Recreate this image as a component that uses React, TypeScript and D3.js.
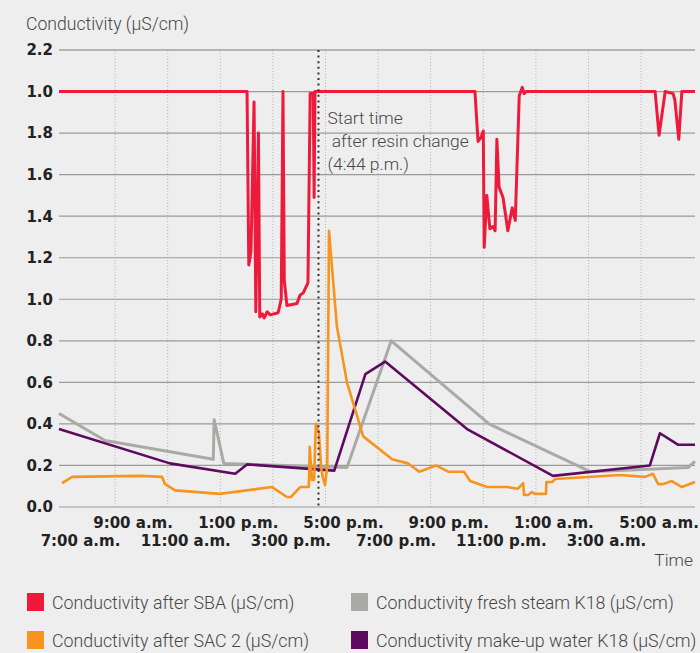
import React from "react";
import * as d3 from "d3";

const yTickValues = [0, 0.2, 0.4, 0.6, 0.8, 1.0, 1.2, 1.4, 1.6, 1.8, 2.0, 2.2];
const yTickLabels = ["0.0", "0.2", "0.4", "0.6", "0.8", "1.0", "1.2", "1.4", "1.6", "1.8", "1.0", "2.2"];

const gridTimes = ["01 09:00", "01 11:00", "01 13:00", "01 15:00", "01 17:00", "01 19:00", "01 21:00", "01 23:00", "02 01:00", "02 03:00", "02 05:00"];
const xTicksRow1 = [["01 09:00", "9:00 a.m."], ["01 13:00", "1:00 p.m."], ["01 17:00", "5:00 p.m."], ["01 21:00", "9:00 p.m."], ["02 01:00", "1:00 a.m."], ["02 05:00", "5:00 a.m."]];
const xTicksRow2 = [["01 07:00", "7:00 a.m."], ["01 11:00", "11:00 a.m."], ["01 15:00", "3:00 p.m."], ["01 19:00", "7:00 p.m."], ["01 23:00", "11:00 p.m."], ["02 03:00", "3:00 a.m."]];

const resinChange = "01 16:44";
const timeDomain = ["01 06:52", "02 07:03"];

const afterSBA: [string, number][] = [
  ["01 06:52", 2.0], ["01 14:01", 2.0], ["01 14:05", 1.165], ["01 14:10", 1.23], ["01 14:17", 1.95],
  ["01 14:21", 0.94], ["01 14:27", 1.8], ["01 14:30", 0.915], ["01 14:36", 0.93], ["01 14:40", 0.91],
  ["01 14:47", 0.94], ["01 14:54", 0.925], ["01 15:12", 0.935], ["01 15:19", 1.0], ["01 15:23", 2.0],
  ["01 15:26", 1.09], ["01 15:32", 0.97], ["01 15:55", 0.98], ["01 16:02", 1.02], ["01 16:09", 1.03],
  ["01 16:18", 1.07], ["01 16:20", 1.08], ["01 16:25", 1.99], ["01 16:32", 1.99], ["01 16:34", 1.49],
  ["01 16:36", 2.0], ["01 22:41", 2.0], ["01 22:48", 1.76], ["01 22:55", 1.78], ["01 23:00", 1.81],
  ["01 23:02", 1.25], ["01 23:08", 1.5], ["01 23:15", 1.34], ["01 23:22", 1.35], ["01 23:27", 1.33],
  ["01 23:31", 1.77], ["01 23:36", 1.54], ["01 23:45", 1.49], ["01 23:56", 1.33], ["02 00:06", 1.44],
  ["02 00:13", 1.38], ["02 00:22", 1.98], ["02 00:29", 2.02], ["02 00:33", 1.99], ["02 00:38", 2.0],
  ["02 05:32", 2.0], ["02 05:41", 1.79], ["02 05:55", 2.0], ["02 06:13", 1.99], ["02 06:17", 1.96],
  ["02 06:26", 1.77], ["02 06:33", 2.0], ["02 07:03", 2.0],
];

const afterSAC2: [string, number][] = [
  ["01 06:59", 0.115], ["01 07:22", 0.145], ["01 09:57", 0.15], ["01 10:47", 0.145], ["01 10:54", 0.11],
  ["01 11:17", 0.08], ["01 12:59", 0.063], ["01 14:58", 0.096], ["01 15:32", 0.048], ["01 15:41", 0.048],
  ["01 16:02", 0.096], ["01 16:22", 0.096], ["01 16:24", 0.29], ["01 16:29", 0.13], ["01 16:34", 0.13],
  ["01 16:38", 0.4], ["01 16:45", 0.36], ["01 16:50", 0.19], ["01 16:54", 0.14], ["01 16:59", 0.105],
  ["01 17:04", 0.2], ["01 17:08", 1.33], ["01 17:26", 0.87], ["01 17:49", 0.6], ["01 18:26", 0.34],
  ["01 19:32", 0.23], ["01 20:08", 0.21], ["01 20:34", 0.17], ["01 21:12", 0.2], ["01 21:40", 0.17],
  ["01 22:16", 0.17], ["01 22:30", 0.125], ["01 23:09", 0.096], ["01 23:54", 0.096], ["02 00:19", 0.088],
  ["02 00:31", 0.115], ["02 00:33", 0.058], ["02 00:42", 0.058], ["02 00:51", 0.072], ["02 00:58", 0.063],
  ["02 01:23", 0.063], ["02 01:24", 0.12], ["02 01:37", 0.12], ["02 01:44", 0.135], ["02 04:12", 0.154],
  ["02 05:09", 0.145], ["02 05:27", 0.16], ["02 05:39", 0.11], ["02 05:50", 0.11], ["02 06:10", 0.125],
  ["02 06:33", 0.096], ["02 07:03", 0.12],
];

const freshSteamK18: [string, number][] = [
  ["01 06:52", 0.45], ["01 08:37", 0.32], ["01 12:44", 0.23], ["01 12:46", 0.42], ["01 13:08", 0.21],
  ["01 17:49", 0.19], ["01 19:30", 0.8], ["01 23:13", 0.4], ["02 03:04", 0.17], ["02 06:47", 0.19],
  ["02 07:03", 0.22],
];

const makeUpWaterK18: [string, number][] = [
  ["01 06:52", 0.375], ["01 11:05", 0.21], ["01 13:34", 0.16], ["01 14:01", 0.205], ["01 17:20", 0.175],
  ["01 18:31", 0.64], ["01 19:16", 0.7], ["01 22:23", 0.375], ["02 01:39", 0.15], ["02 05:20", 0.2],
  ["02 05:43", 0.355], ["02 06:24", 0.3], ["02 07:03", 0.3],
];

const seriesNames = [
  "Conductivity after SBA (µS/cm)",
  "Conductivity after SAC 2 (µS/cm)",
  "Conductivity fresh steam K18 (µS/cm)",
  "Conductivity make-up water K18 (µS/cm)",
];
const seriesColors = ["#ee1a3b", "#f7941d", "#a9a9a5", "#5e0a5f"];

const annotationLines = ["Start time", " after resin change", "(4:44 p.m.)"];

const parse = d3.timeParse("%d %H:%M");
const W = 700, H = 653;
const M = { left: 59, right: 695, top: 50, bottom: 507 };

export default function App() {
  const x = d3.scaleTime().domain(timeDomain.map((t) => parse(t) as Date)).range([M.left, M.right]);
  const y = d3.scaleLinear().domain([0, 2.2]).range([M.bottom, M.top]);
  const line = d3
    .line<[string, number]>()
    .x((d) => x(parse(d[0]) as Date))
    .y((d) => y(d[1]));

  const light = "Roboto, 'Liberation Sans', sans-serif";
  const bold = "'DejaVu Sans', Roboto, sans-serif";
  const textGray = "#474747";
  const xr = x(parse(resinChange) as Date);

  const series: [[string, number][], string, number][] = [
    [freshSteamK18, seriesColors[2], 3],
    [makeUpWaterK18, seriesColors[3], 2.6],
    [afterSAC2, seriesColors[1], 2.6],
    [afterSBA, seriesColors[0], 3],
  ];

  const legend = [
    { name: seriesNames[0], color: seriesColors[0], lx: 27, ly: 593 },
    { name: seriesNames[1], color: seriesColors[1], lx: 27, ly: 631 },
    { name: seriesNames[2], color: seriesColors[2], lx: 351, ly: 593 },
    { name: seriesNames[3], color: seriesColors[3], lx: 351, ly: 631 },
  ];

  return (
    <svg width={W} height={H} style={{ position: "absolute", left: 0, top: 0 }}>
      <rect x={0} y={0} width={W} height={H} fill="#eeeeee" />
      <text x={26} y={30} fontFamily={light} fontWeight={300} fontSize={17.6} fill={textGray}>
        Conductivity (µS/cm)
      </text>
      {gridTimes.map((t) => (
        <line key={t} x1={x(parse(t) as Date)} x2={x(parse(t) as Date)} y1={M.top} y2={M.bottom}
          stroke="#b4b4b4" strokeWidth={1} strokeDasharray="1 2" />
      ))}
      {yTickValues.map((v, i) => (
        <g key={i}>
          <line x1={M.left} x2={M.right} y1={y(v)} y2={y(v)} stroke={i === yTickValues.length - 1 ? "#7a7a7a" : "#9a9a9a"} strokeWidth={1.2} />
          <text x={53} y={y(v)} dy="0.36em" textAnchor="end" fontFamily={bold} fontWeight="bold" fontSize={15} fill="#222">
            {yTickLabels[i]}
          </text>
        </g>
      ))}
      {series.map(([data, color, w], i) => (
        <path key={i} d={line(data) || ""} fill="none" stroke={color} strokeWidth={w} strokeLinejoin="round" />
      ))}
      <line x1={xr} x2={xr} y1={M.top} y2={M.bottom} stroke="#333" strokeWidth={2} strokeDasharray="2 3.6" />
      {annotationLines.map((s, i) => (
        <text key={i} x={xr + 9} y={124 + i * 23} fontFamily={light} fontWeight={300} fontSize={17.4} fill={textGray} style={{ whiteSpace: "pre" }}>
          {s}
        </text>
      ))}
      {xTicksRow1.map(([t, l]) => (
        <text key={t} x={x(parse(t) as Date) + 18} y={528} textAnchor="middle" fontFamily={bold} fontWeight="bold" fontSize={15} fill="#222">
          {l}
        </text>
      ))}
      {xTicksRow2.map(([t, l]) => (
        <text key={t} x={x(parse(t) as Date) + 18} y={546} textAnchor="middle" fontFamily={bold} fontWeight="bold" fontSize={15} fill="#222">
          {l}
        </text>
      ))}
      <text x={693} y={566} textAnchor="end" fontFamily={light} fontWeight={300} fontSize={17.4} fill={textGray}>
        Time
      </text>
      {legend.map((l) => (
        <g key={l.name}>
          <rect x={l.lx} y={l.ly} width={17} height={18} fill={l.color} />
          <text x={l.lx + 25} y={l.ly + 16} fontFamily={light} fontWeight={300} fontSize={17.8} fill={textGray}>
            {l.name}
          </text>
        </g>
      ))}
    </svg>
  );
}
